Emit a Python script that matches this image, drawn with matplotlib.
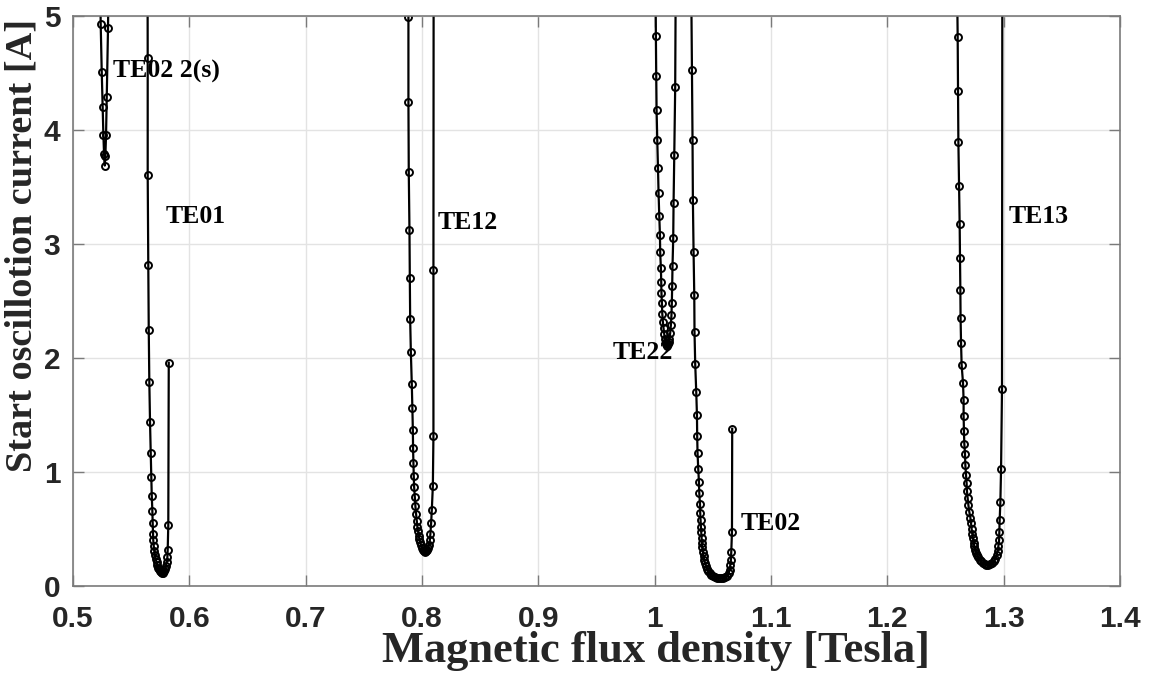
import matplotlib.pyplot as plt

# TE02 2(s)
b_te02s = [0.5234, 0.5238, 0.5247, 0.5255, 0.5261, 0.5267, 0.5273, 0.5278, 0.5284, 0.5290, 0.5301, 0.5305]
i_te02s = [5.30, 4.93, 4.51, 4.20, 3.96, 3.79, 3.69, 3.77, 3.96, 4.29, 4.90, 5.30]

# TE01
b_te01 = [0.5640, 0.5642, 0.5642, 0.5647, 0.5651, 0.5656, 0.5662, 0.5668, 0.5673, 0.5677, 0.5682,
          0.5685, 0.5688, 0.5690, 0.5694, 0.5699, 0.5705, 0.5711, 0.5718, 0.5725, 0.5733, 0.5742,
          0.5751, 0.5759, 0.5768, 0.5776, 0.5785, 0.5794, 0.5800, 0.5806, 0.5811, 0.5814, 0.5819, 0.5823]
i_te01 = [5.90, 4.63, 3.61, 2.82, 2.25, 1.79, 1.44, 1.17, 0.956, 0.79, 0.66,
          0.55, 0.46, 0.40, 0.35, 0.31, 0.27, 0.24, 0.21, 0.18, 0.16, 0.145,
          0.13, 0.12, 0.115, 0.118, 0.128, 0.15, 0.175, 0.21, 0.25, 0.32, 0.535, 1.96]

# TE12
b_te12 = [0.7880, 0.7883, 0.7883, 0.7886, 0.7892, 0.7895, 0.7898, 0.7904, 0.7912, 0.7917, 0.7921,
          0.7923, 0.7926, 0.7929, 0.7932, 0.7938, 0.7943, 0.7949, 0.7955, 0.7960, 0.7966, 0.7972,
          0.7978, 0.7984, 0.7992, 0.8001, 0.8009, 0.8018, 0.8027, 0.8035, 0.8044, 0.8052, 0.8061,
          0.8067, 0.8072, 0.8078, 0.8084, 0.8093, 0.8098, 0.8098, 0.8100]
i_te12 = [5.90, 4.99, 4.25, 3.63, 3.12, 2.70, 2.34, 2.05, 1.77, 1.56, 1.37,
          1.21, 1.08, 0.965, 0.87, 0.78, 0.70, 0.63, 0.57, 0.52, 0.48, 0.44,
          0.41, 0.385, 0.36, 0.335, 0.315, 0.305, 0.30, 0.305, 0.315, 0.335, 0.36,
          0.40, 0.46, 0.55, 0.667, 0.877, 1.32, 2.77, 5.90]

# TE22
b_te22 = [1.0004, 1.0010, 1.0013, 1.0016, 1.0022, 1.0028, 1.0033, 1.0039, 1.0045, 1.0047, 1.0053,
          1.0056, 1.0058, 1.0062, 1.0065, 1.0070, 1.0076, 1.0082, 1.0088, 1.0093, 1.0099, 1.0107,
          1.0116, 1.0122, 1.0127, 1.0133, 1.0139, 1.0144, 1.0147, 1.0150, 1.0153, 1.0159, 1.0162,
          1.0168, 1.0176, 1.0182]
i_te22 = [5.60, 4.83, 4.48, 4.18, 3.91, 3.67, 3.45, 3.25, 3.08, 2.93, 2.79,
          2.67, 2.57, 2.48, 2.39, 2.32, 2.26, 2.21, 2.17, 2.14, 2.12, 2.11,
          2.12, 2.14, 2.17, 2.22, 2.29, 2.38, 2.48, 2.63, 2.81, 3.05, 3.36,
          3.78, 4.38, 5.60]

# TE02
b_te02 = [1.0311, 1.0320, 1.0325, 1.0328, 1.0334, 1.0340, 1.0342, 1.0348, 1.0357, 1.0363, 1.0365,
          1.0368, 1.0374, 1.0380, 1.0383, 1.0389, 1.0391, 1.0394, 1.0397, 1.0400, 1.0403, 1.0406,
          1.0408, 1.0414, 1.0420, 1.0425, 1.0434, 1.0442, 1.0451, 1.0460, 1.0473, 1.0486, 1.0503,
          1.0520, 1.0537, 1.0555, 1.0572, 1.0589, 1.0606, 1.0623, 1.0635, 1.0643, 1.0649, 1.0655,
          1.0658, 1.0664, 1.0666]
i_te02 = [5.60, 4.53, 3.91, 3.39, 2.93, 2.55, 2.23, 1.95, 1.70, 1.50, 1.32,
          1.17, 1.03, 0.915, 0.815, 0.72, 0.643, 0.58, 0.52, 0.47, 0.42, 0.38,
          0.34, 0.30, 0.26, 0.23, 0.20, 0.175, 0.15, 0.13, 0.113, 0.10, 0.088,
          0.078, 0.07, 0.066, 0.066, 0.07, 0.078, 0.09, 0.11, 0.14, 0.18, 0.23,
          0.30, 0.476, 1.38]

# TE13
b_te13 = [1.2595, 1.2604, 1.2607, 1.2610, 1.2616, 1.2621, 1.2624, 1.2627, 1.2629, 1.2633, 1.2638,
          1.2650, 1.2655, 1.2655, 1.2658, 1.2661, 1.2667, 1.2670, 1.2676, 1.2681, 1.2684, 1.2690,
          1.2696, 1.2704, 1.2713, 1.2719, 1.2724, 1.2730, 1.2736, 1.2741, 1.2747, 1.2756, 1.2764,
          1.2773, 1.2782, 1.2793, 1.2807, 1.2822, 1.2836, 1.2850, 1.2868, 1.2885, 1.2902, 1.2916,
          1.2928, 1.2939, 1.2948, 1.2954, 1.2960, 1.2962, 1.2965, 1.2971, 1.2977, 1.2985, 1.2988]
i_te13 = [5.60, 4.82, 4.34, 3.90, 3.51, 3.18, 2.88, 2.60, 2.35, 2.13, 1.94,
          1.78, 1.63, 1.49, 1.36, 1.25, 1.16, 1.06, 0.97, 0.90, 0.83, 0.77,
          0.71, 0.65, 0.60, 0.55, 0.50, 0.46, 0.42, 0.38, 0.35, 0.32, 0.29,
          0.27, 0.25, 0.23, 0.215, 0.20, 0.19, 0.185, 0.185, 0.19, 0.20, 0.215,
          0.24, 0.27, 0.31, 0.35, 0.40, 0.476, 0.58, 0.74, 1.03, 1.73, 5.60]

modes = [(b_te02s, i_te02s), (b_te01, i_te01), (b_te12, i_te12),
         (b_te22, i_te22), (b_te02, i_te02), (b_te13, i_te13)]

mode_labels = ['TE02 2(s)', 'TE01', 'TE12', 'TE22', 'TE02', 'TE13']
label_b = [0.5344, 0.5800, 0.8130, 0.9634, 1.0735, 1.3040]
label_i = [4.52, 3.24, 3.19, 2.05, 0.55, 3.24]

x_ticks = [0.5, 0.6, 0.7, 0.8, 0.9, 1.0, 1.1, 1.2, 1.3, 1.4]
x_ticklabels = ['0.5', '0.6', '0.7', '0.8', '0.9', '1', '1.1', '1.2', '1.3', '1.4']
y_ticks = [0, 1, 2, 3, 4, 5]

fig = plt.figure(figsize=(11.57, 6.79), dpi=100)
ax = fig.add_axes([0.0631, 0.137, 0.905, 0.839])

for b, i in modes:
    ax.plot(b, i, '-o', color='black', lw=1.6, ms=5, mfc='none', mew=1.4)

for txt, xb, yi in zip(mode_labels, label_b, label_i):
    ax.text(xb, yi, txt, fontsize=18.5, fontweight='bold', family='Liberation Serif',
            ha='left', va='center')

ax.set_xlim(0.5, 1.4)
ax.set_ylim(0, 5)
ax.set_xticks(x_ticks)
ax.set_xticklabels(x_ticklabels)
ax.set_yticks(y_ticks)
ax.grid(True, color='#e3e3e3', lw=1.0)
ax.set_axisbelow(True)

for s in ax.spines.values():
    s.set_color('#7a7a7a')
    s.set_linewidth(1.2)

ax.tick_params(direction='in', length=8, width=1, color='#7a7a7a',
               top=True, right=True, labelsize=21.5, labelcolor='#262626')
ax.tick_params(axis='x', pad=14)
ax.tick_params(axis='y', pad=9)
for lab in ax.get_xticklabels() + ax.get_yticklabels():
    lab.set_fontfamily('Liberation Sans')
    lab.set_fontweight('bold')

ax.set_xlabel('Magnetic flux density [Tesla]', fontsize=32, fontweight='bold',
              family='Liberation Serif', color='#262626')
ax.xaxis.set_label_coords(0.557, -0.114)
ax.set_ylabel('Start oscillotion current [A]', fontsize=27.5, fontweight='bold',
              family='Liberation Serif', color='#262626')
ax.yaxis.set_label_coords(-0.049, 0.598)
ax.xaxis.label.set_va('center')
ax.yaxis.label.set_va('center')

fig.savefig('out.png', dpi=100)
